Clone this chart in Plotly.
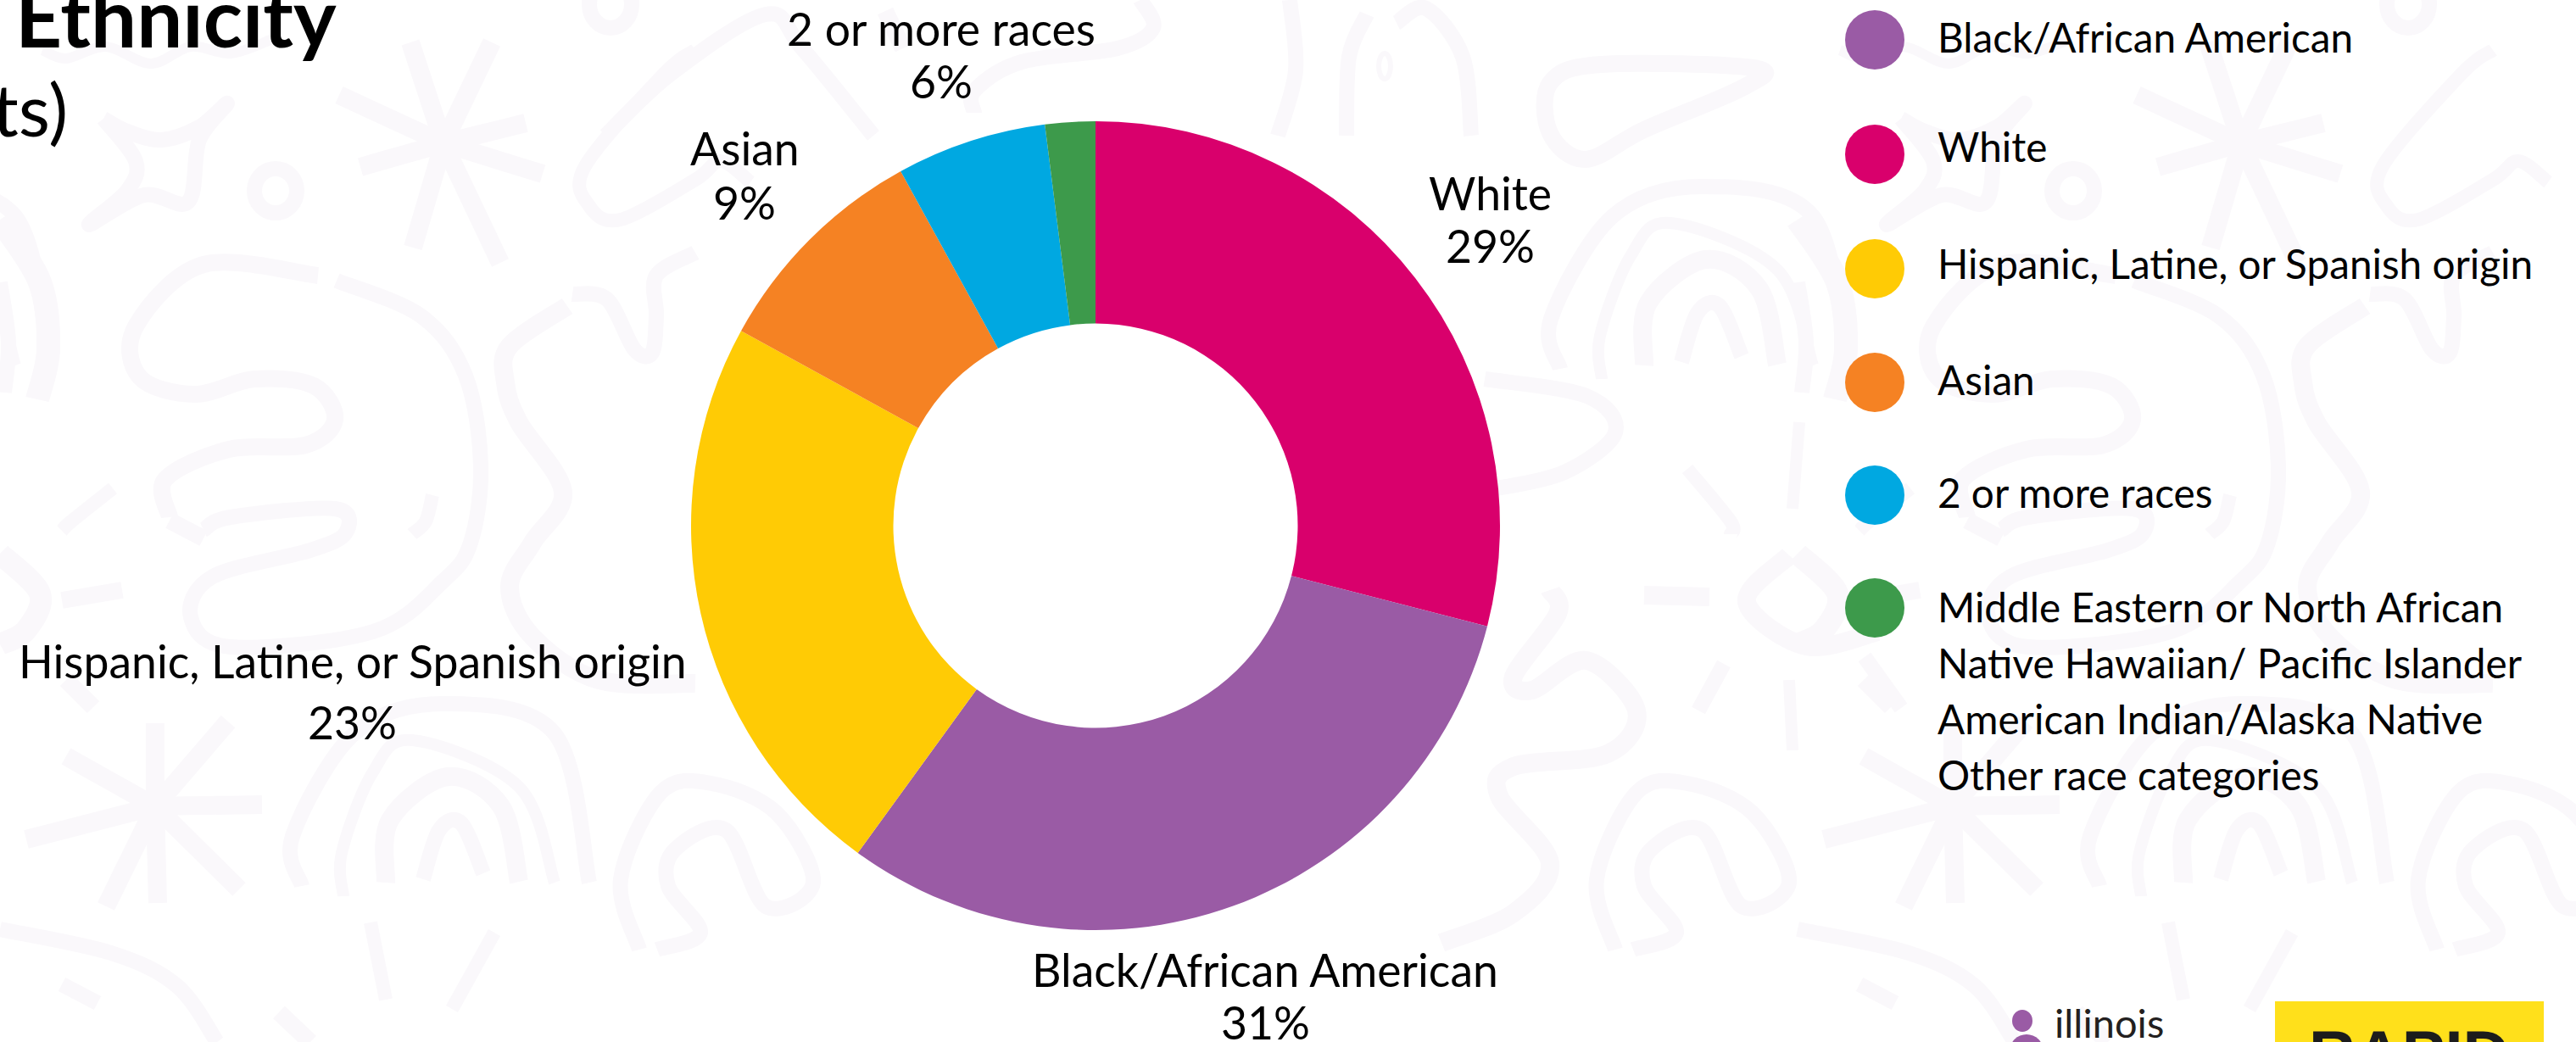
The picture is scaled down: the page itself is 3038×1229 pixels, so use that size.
import plotly.graph_objects as go

# ---- chart data -------------------------------------------------------
categories = ["White", "Black/African American", "Hispanic, Latine, or Spanish origin",
              "Asian", "2 or more races", "Middle Eastern or North African"]
values = [29, 31, 23, 9, 6, 2]
colors = ["#D9006C", "#9A5BA5", "#FFCB05", "#F58223", "#00A8E1", "#3D9A4B"]
legend_order = [1, 0, 2, 3, 4, 5]
legend_extra = ["Native Hawaiian/ Pacific Islander", "American Indian/Alaska Native", "Other race categories"]
title_text = "Ethnicity"
subtitle_text = "ts)"

W, H = 3038, 1229
FONT = "Lato"
DOODLE = "#FAF8FB"


def px(x):
    return x / W


def py(y):
    return 1 - y / H


def smooth(pts, closed=False):
    """Catmull-Rom spline through pixel points -> SVG path in paper coordinates."""
    p = list(pts)
    if closed:
        p = [p[-1]] + p + p[:2]
    else:
        p = [p[0]] + p + [p[-1]]
    fx = lambda a: round(a / W, 5)
    fy = lambda b: round(1 - b / H, 5)
    d = f"M{fx(p[1][0])},{fy(p[1][1])}"
    for i in range(1, len(p) - 2):
        c1 = (p[i][0] + (p[i + 1][0] - p[i - 1][0]) / 6, p[i][1] + (p[i + 1][1] - p[i - 1][1]) / 6)
        c2 = (p[i + 1][0] - (p[i + 2][0] - p[i][0]) / 6, p[i + 1][1] - (p[i + 2][1] - p[i][1]) / 6)
        d += f" C{fx(c1[0])},{fy(c1[1])} {fx(c2[0])},{fy(c2[1])} {fx(p[i + 1][0])},{fy(p[i + 1][1])}"
    return d


shapes = []


def doodle(pts, w=18, dx=0, dy=0, closed=False):
    q = [(a + dx, b + dy) for a, b in pts]
    shapes.append(dict(type="path", xref="paper", yref="paper", layer="below", path=smooth(q, closed),
                       line=dict(color=DOODLE, width=w), fillcolor="rgba(0,0,0,0)"))


def star(c, arms, w=20, dx=0):
    for a in arms:
        doodle([c, ((c[0] + a[0]) / 2, (c[1] + a[1]) / 2), a], w, dx)


def ring(cx, cy, rx, ry, w=18):
    shapes.append(dict(type="circle", xref="paper", yref="paper", layer="below",
                       x0=px(cx - rx), x1=px(cx + rx), y0=py(cy + ry), y1=py(cy - ry),
                       line=dict(color=DOODLE, width=w), fillcolor="rgba(0,0,0,0)"))


TILE = 2120
for dx in (0, TILE):
    star((523, 169), [(484, 50), (580, 50), (400, 112), (620, 145), (425, 197), (640, 205), (487, 292), (590, 310)], 22, dx)
    star((183, 951), [(183, 853), (269, 851), (78, 892), (309, 949), (31, 990), (282, 1049), (125, 1069), (186, 1065)], 22, dx)
    doodle([(122, 140), (150, 155), (190, 165), (235, 150), (268, 122), (235, 165), (222, 238), (170, 230), (105, 265), (150, 225), (160, 190), (122, 140)], 18, dx)
    ring(325 + dx, 225, 25, 26, 18)
    ring(720 + dx, 5, 25, 28, 18)
    doodle([(375, 325), (240, 312), (160, 385), (165, 445), (230, 465), (300, 447), (370, 455), (395, 495), (360, 525), (270, 530), (195, 565), (200, 610)], 20, dx)
    doodle([(397, 331), (497, 373), (549, 443), (567, 549), (555, 640), (523, 685), (440, 745), (272, 763), (225, 728), (251, 680), (366, 649), (408, 628), (395, 600), (272, 610), (240, 625)], 18, dx)
    doodle([(820, 59), (784, 86), (690, 196), (695, 243), (732, 259), (820, 212), (850, 190), (885, 215)], 16, dx)
    doodle([(675, 347), (716, 353), (748, 412), (769, 416), (774, 372), (774, 325), (820, 298)], 18, dx)
    doodle([(669, 361), (601, 408), (596, 451), (612, 498), (664, 580), (628, 640), (601, 692), (628, 751), (706, 802), (820, 806)], 22, dx)
    doodle([(0, 259), (47, 333), (57, 412), (44, 471)], 28, dx)
    doodle([(0, 333), (10, 404), (5, 463)], 18, dx)
    doodle([(133, 576), (84, 615), (73, 626)], 16, dx)
    doodle([(73, 708), (144, 696)], 20, dx)
    doodle([(0, 653), (47, 700), (31, 743), (0, 760)], 26, dx)
    doodle([(200, 614), (240, 635)], 20, dx)
    doodle([(510, 584), (502, 615), (486, 630)], 16, dx)
    doodle([(78, 802), (110, 834)], 20, dx)
    doodle([(0, 1096), (131, 1124), (209, 1163), (256, 1229)], 18, dx)
    doodle([(73, 1161), (115, 1183)], 18, dx)
    doodle([(437, 1088), (455, 1179)], 16, dx)
    doodle([(583, 1100), (533, 1190)], 16, dx)
    doodle([(329, 1194), (366, 1229)], 20, dx)
    doodle([(50, 59), (78, 69), (125, 55), (178, 75), (225, 55), (272, 63), (319, 47)], 12, dx)

# rainbows
arches = [
    ([(695, 1041), (654, 865), (523, 830), (418, 865), (345, 986), (356, 1045)], 18),
    ([(654, 1041), (612, 928), (486, 873), (439, 912), (403, 1006), (405, 1057)], 14),
    ([(455, 1041), (460, 967), (528, 916), (591, 951), (612, 1040)], 22),
    ([(499, 1037), (518, 979), (544, 971), (570, 1030)], 18),
]
for ox, oy in ((0, 0), (TILE, 0), (1484, -610), (1484 - TILE, -610)):
    for pts, w in arches:
        doodle([(a + ox, b + oy) for a, b in pts], w)

# spiral arch
for dx in (0, 969, -1151):
    doodle([(1905, 1120), (1883, 1037), (1930, 935), (1990, 924), (2067, 959), (2110, 1041), (2054, 1069), (2007, 979), (1947, 1002), (1939, 1045), (1977, 1100), (1926, 1120)], 18, dx)

# remaining strokes of the middle band
doodle([(1828, 98), (1888, 76), (2067, 80), (2058, 102), (1939, 153), (1870, 188), (1828, 157)], 20, closed=True)
doodle([(1828, 696), (1837, 724), (1785, 798), (1807, 814), (1871, 779), (1930, 838), (1896, 889), (1785, 904), (1768, 939), (1828, 1018), (1785, 1077), (1700, 1112)], 22)
doodle([(2110, 655), (2060, 710), (2130, 762), (2215, 745)], 22)
doodle([(1939, 702), (2016, 704)], 22)
doodle([(2033, 783), (2003, 838)], 18)
doodle([(2110, 802), (2114, 885)], 14)
doodle([(2199, 775), (2242, 835)], 18)
doodle([(2122, 498), (2114, 600)], 14)
doodle([(1990, 553), (2041, 615), (2041, 630)], 16)
doodle([(1751, 447), (1871, 467), (1905, 510), (1845, 557), (1760, 577)], 18)
doodle([(714, 160), (791, 87), (903, 17), (946, 57), (1030, 160)], 18)
doodle([(1044, 13), (1065, 57)], 20)
doodle([(1345, 0), (1360, 33), (1318, 57), (1205, 73), (1149, 107), (1149, 133)], 18)
doodle([(1521, 0), (1528, 83), (1507, 160)], 18)
doodle([(1612, 17), (1591, 67), (1588, 160)], 18)
doodle([(1647, 27), (1682, 10), (1725, 67), (1735, 160)], 18)
ring(1633, 78, 7, 15, 6)

# ---- legend markers ----------------------------------------------------
LEG_Y = [47, 182, 317, 451, 584, 717]
LEG_TEXT_Y = [43, 172, 311, 447, 580, 715]
LEG_CX, LEG_R, LEG_TX = 2211, 35, 2283
for cy, i in zip(LEG_Y, legend_order):
    shapes.append(dict(type="circle", xref="paper", yref="paper", layer="above",
                       x0=px(LEG_CX - LEG_R), x1=px(LEG_CX + LEG_R), y0=py(cy + LEG_R), y1=py(cy - LEG_R),
                       line=dict(width=0), fillcolor=colors[i]))

# ---- logos ------------------------------------------------------------
shapes.append(dict(type="circle", xref="paper", yref="paper", x0=px(2373), x1=px(2397), y0=py(1217), y1=py(1191),
                   line=dict(width=0), fillcolor="#9A5BA5"))
shapes.append(dict(type="circle", xref="paper", yref="paper", x0=px(2370), x1=px(2410), y0=py(1260), y1=py(1220),
                   line=dict(width=0), fillcolor="#9A5BA5"))
shapes.append(dict(type="rect", xref="paper", yref="paper", x0=px(2683), x1=px(3000), y0=py(1240), y1=py(1181),
                   line=dict(width=0), fillcolor="#FFE01B"))

# ---- annotations ------------------------------------------------------
ann = []


def text(s, x, y, size, anchor="left", color="#000000", bold=False, family=FONT):
    ann.append(dict(text=f"<b>{s}</b>" if bold else s, xref="paper", yref="paper", x=px(x), y=py(y),
                    xanchor=anchor, yanchor="middle", showarrow=False, align=anchor,
                    font=dict(family=family, size=size, color=color)))


for ty, i in zip(LEG_TEXT_Y, legend_order):
    text(categories[i], LEG_TX, ty, 47.7)
for k, s in enumerate(legend_extra):
    text(s, LEG_TX, 781 + 66 * k, 47.7)
text(title_text, 16, 18, 96, bold=True)
text(subtitle_text, 82, 128, 86, anchor="right")
text("illinois", 2421, 1206, 47, color="#231F20")
text("RAPID", 2841, 1242, 76, anchor="center", color="#1C1C1C", bold=True, family="Liberation Sans")

# slice labels: name and share, each at its place beside the ring
label_pos = {0: (1757, 227, 289), 1: (1492, 1143, 1205), 2: (416, 779, 851), 3: (878, 174, 238), 4: (1110, 33, 95)}
for i, (lx, y1, y2) in label_pos.items():
    text(categories[i], lx, y1, 53.5, anchor="center")
    text(f"{values[i]}%", lx, y2, 53.5, anchor="center")

# ---- pie --------------------------------------------------------------
fig = go.Figure(go.Pie(
    labels=categories, values=values, textinfo="none",
    sort=False, direction="clockwise", rotation=0, hole=0.5,
    marker=dict(colors=colors, line=dict(width=0)),
    domain=dict(x=[px(1292 - 477), px(1292 + 477)], y=[py(1097), py(143)]),
    showlegend=False,
))
fig.update_layout(width=W, height=H, margin=dict(l=0, r=0, t=0, b=0), paper_bgcolor="#FFFFFF",
                  plot_bgcolor="#FFFFFF", shapes=shapes, annotations=ann, showlegend=False)
fig.write_html("out.html", config=dict(displayModeBar=False),
               post_script="document.body.style.margin='0';")
